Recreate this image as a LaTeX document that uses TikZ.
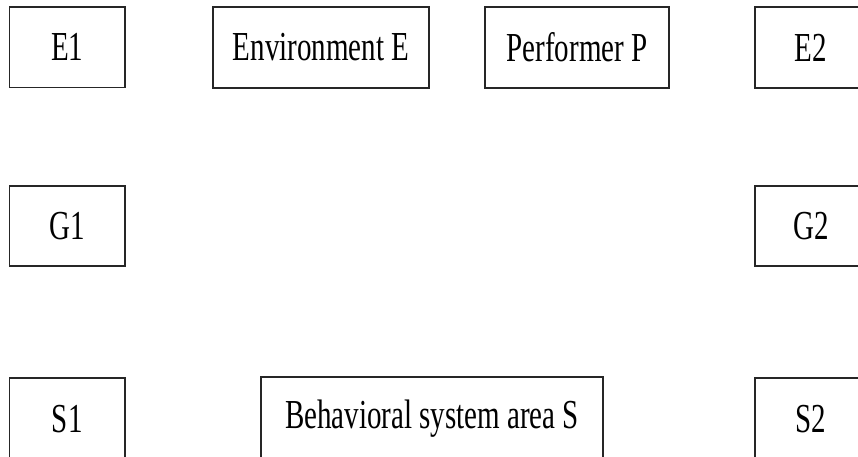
\documentclass[tikz,border=0pt]{standalone}
\usepackage{fontspec}
\usepackage{graphicx}
\setmainfont{Liberation Serif}
\tikzset{
  x=1pt, y=-1pt,
  lbl/.style={inner sep=0pt, anchor=center, font=\fontsize{29}{29}\selectfont},
  box/.style={lbl, draw=black!85, line width=1.2pt},
  frame/.style={draw=black!85, line width=1.2pt, inner sep=0pt, anchor=center},
}
\newcommand{\tall}[1]{\scalebox{1}[1.42]{#1}}
\begin{document}
\begin{tikzpicture}
\useasboundingbox (0,0) rectangle (858,457);
\clip (0,0) rectangle (858,457);
\fill[white] (0,0) rectangle (858,457);
\node[box, minimum width=115.5, minimum height=80.5] (E1) at (67.25,47.25) {\tall{E1}};
\node[box, minimum width=216, minimum height=81] (EnvE) at (321,47.5) {\tall{Environment E}};
\node[box, minimum width=184, minimum height=81] (PerfP) at (577,47.5) {\tall{Performer P}};
\node[box, minimum width=115.5, minimum height=80] (G1) at (67.25,226) {\tall{G1}};
\node[box, minimum width=115.5, minimum height=110] (S1) at (67.25,433) {\tall{S1}\rule[-28pt]{0pt}{0pt}};
% boxes cut by the right and bottom edges
\node[frame, minimum width=200, minimum height=81] (E2frame) at (855,47.5) {};
\node[lbl] (E2) at (811,47.5) {\tall{E2}};
\node[frame, minimum width=200, minimum height=80] (G2frame) at (855,226) {};
\node[lbl] (G2) at (811,226) {\tall{G2}};
\node[frame, minimum width=200, minimum height=110] (S2frame) at (855,433) {};
\node[lbl] (S2) at (811,419) {\tall{S2}};
\node[frame, minimum width=342, minimum height=110] (BehSframe) at (432,432) {};
\node[lbl] (BehS) at (432,418.5) {\tall{Behavioral system area S}};
\end{tikzpicture}
\end{document}
